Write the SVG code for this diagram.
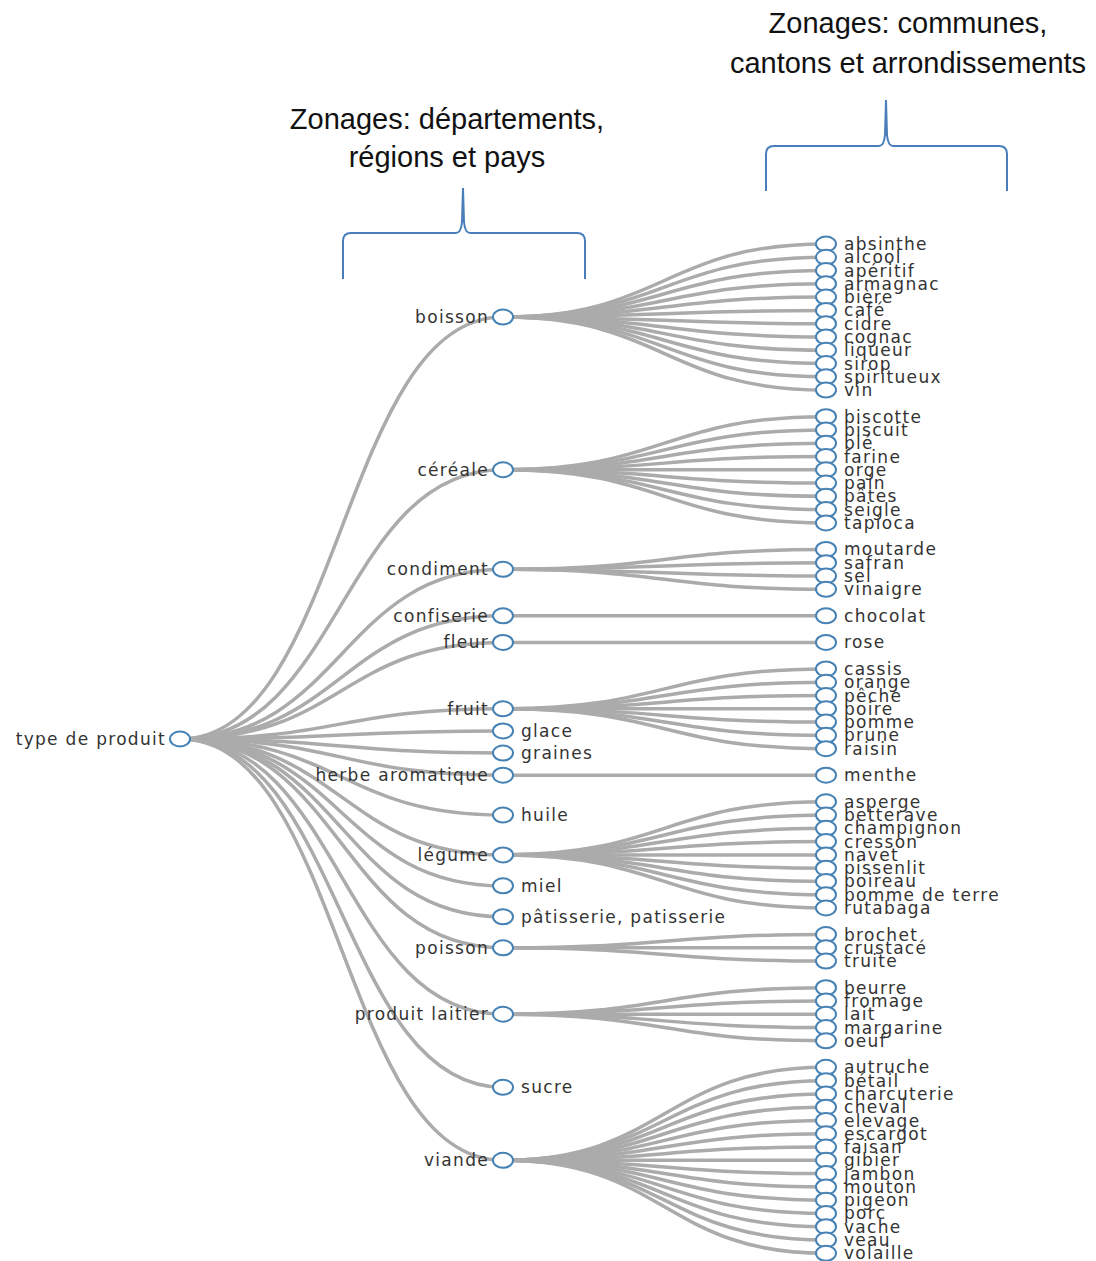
<svg xmlns="http://www.w3.org/2000/svg" width="1096" height="1261" viewBox="0 0 1096 1261">
<style>
.link{fill:none;stroke:#ababab;stroke-width:3.5}
.node ellipse{fill:#fff;stroke:#4682b4;stroke-width:2}
.lbl{font-family:"DejaVu Sans",sans-serif;font-size:17px;letter-spacing:1.3px;fill:#333}
.end{text-anchor:end}
.title{font-family:"Liberation Sans",sans-serif;font-size:29px;fill:#111;text-anchor:middle}
.brace{fill:none;stroke:#4a7ebb;stroke-width:2}
</style>
<g id="annotations">
<text class="title" x="908" y="33">Zonages: communes,</text>
<text class="title" x="908" y="73">cantons et arrondissements</text>
<text class="title" x="447" y="129">Zonages: départements,</text>
<text class="title" x="447" y="167">régions et pays</text>
<path class="brace" d="M343,279 L343,241 Q343,233 351,233 L456,233 Q461,233 462,222 L463,188 L464,222 Q465,233 470,233 L577,233 Q585,233 585,241 L585,279"/>
<path class="brace" d="M766,191 L766,154 Q766,146 774,146 L879,146 Q884,146 885,135 L886,100 L887,135 Q888,146 893,146 L999,146 Q1007,146 1007,154 L1007,191"/>
</g>
<g id="links">
<path class="link" d="M180,739 C341.5,739 341.5,317.04 503,317.04"/>
<path class="link" d="M180,739 C341.5,739 341.5,469.76 503,469.76"/>
<path class="link" d="M180,739 C341.5,739 341.5,569.36 503,569.36"/>
<path class="link" d="M180,739 C341.5,739 341.5,615.84 503,615.84"/>
<path class="link" d="M180,739 C341.5,739 341.5,642.4 503,642.4"/>
<path class="link" d="M180,739 C341.5,739 341.5,708.8 503,708.8"/>
<path class="link" d="M180,739 C341.5,739 341.5,730.93 503,730.93"/>
<path class="link" d="M180,739 C341.5,739 341.5,753.07 503,753.07"/>
<path class="link" d="M180,739 C341.5,739 341.5,775.2 503,775.2"/>
<path class="link" d="M180,739 C341.5,739 341.5,815.04 503,815.04"/>
<path class="link" d="M180,739 C341.5,739 341.5,854.88 503,854.88"/>
<path class="link" d="M180,739 C341.5,739 341.5,885.87 503,885.87"/>
<path class="link" d="M180,739 C341.5,739 341.5,916.85 503,916.85"/>
<path class="link" d="M180,739 C341.5,739 341.5,947.84 503,947.84"/>
<path class="link" d="M180,739 C341.5,739 341.5,1014.24 503,1014.24"/>
<path class="link" d="M180,739 C341.5,739 341.5,1087.28 503,1087.28"/>
<path class="link" d="M180,739 C341.5,739 341.5,1160.32 503,1160.32"/>
<path class="link" d="M503,317.04 C664.5,317.04 664.5,244 826,244"/>
<path class="link" d="M503,317.04 C664.5,317.04 664.5,257.28 826,257.28"/>
<path class="link" d="M503,317.04 C664.5,317.04 664.5,270.56 826,270.56"/>
<path class="link" d="M503,317.04 C664.5,317.04 664.5,283.84 826,283.84"/>
<path class="link" d="M503,317.04 C664.5,317.04 664.5,297.12 826,297.12"/>
<path class="link" d="M503,317.04 C664.5,317.04 664.5,310.4 826,310.4"/>
<path class="link" d="M503,317.04 C664.5,317.04 664.5,323.68 826,323.68"/>
<path class="link" d="M503,317.04 C664.5,317.04 664.5,336.96 826,336.96"/>
<path class="link" d="M503,317.04 C664.5,317.04 664.5,350.24 826,350.24"/>
<path class="link" d="M503,317.04 C664.5,317.04 664.5,363.52 826,363.52"/>
<path class="link" d="M503,317.04 C664.5,317.04 664.5,376.8 826,376.8"/>
<path class="link" d="M503,317.04 C664.5,317.04 664.5,390.08 826,390.08"/>
<path class="link" d="M503,469.76 C664.5,469.76 664.5,416.64 826,416.64"/>
<path class="link" d="M503,469.76 C664.5,469.76 664.5,429.92 826,429.92"/>
<path class="link" d="M503,469.76 C664.5,469.76 664.5,443.2 826,443.2"/>
<path class="link" d="M503,469.76 C664.5,469.76 664.5,456.48 826,456.48"/>
<path class="link" d="M503,469.76 C664.5,469.76 664.5,469.76 826,469.76"/>
<path class="link" d="M503,469.76 C664.5,469.76 664.5,483.04 826,483.04"/>
<path class="link" d="M503,469.76 C664.5,469.76 664.5,496.32 826,496.32"/>
<path class="link" d="M503,469.76 C664.5,469.76 664.5,509.6 826,509.6"/>
<path class="link" d="M503,469.76 C664.5,469.76 664.5,522.88 826,522.88"/>
<path class="link" d="M503,569.36 C664.5,569.36 664.5,549.44 826,549.44"/>
<path class="link" d="M503,569.36 C664.5,569.36 664.5,562.72 826,562.72"/>
<path class="link" d="M503,569.36 C664.5,569.36 664.5,576 826,576"/>
<path class="link" d="M503,569.36 C664.5,569.36 664.5,589.28 826,589.28"/>
<path class="link" d="M503,615.84 L826,615.84"/>
<path class="link" d="M503,642.4 L826,642.4"/>
<path class="link" d="M503,708.8 C664.5,708.8 664.5,668.96 826,668.96"/>
<path class="link" d="M503,708.8 C664.5,708.8 664.5,682.24 826,682.24"/>
<path class="link" d="M503,708.8 C664.5,708.8 664.5,695.52 826,695.52"/>
<path class="link" d="M503,708.8 C664.5,708.8 664.5,708.8 826,708.8"/>
<path class="link" d="M503,708.8 C664.5,708.8 664.5,722.08 826,722.08"/>
<path class="link" d="M503,708.8 C664.5,708.8 664.5,735.36 826,735.36"/>
<path class="link" d="M503,708.8 C664.5,708.8 664.5,748.64 826,748.64"/>
<path class="link" d="M503,775.2 L826,775.2"/>
<path class="link" d="M503,854.88 C664.5,854.88 664.5,801.76 826,801.76"/>
<path class="link" d="M503,854.88 C664.5,854.88 664.5,815.04 826,815.04"/>
<path class="link" d="M503,854.88 C664.5,854.88 664.5,828.32 826,828.32"/>
<path class="link" d="M503,854.88 C664.5,854.88 664.5,841.6 826,841.6"/>
<path class="link" d="M503,854.88 C664.5,854.88 664.5,854.88 826,854.88"/>
<path class="link" d="M503,854.88 C664.5,854.88 664.5,868.16 826,868.16"/>
<path class="link" d="M503,854.88 C664.5,854.88 664.5,881.44 826,881.44"/>
<path class="link" d="M503,854.88 C664.5,854.88 664.5,894.72 826,894.72"/>
<path class="link" d="M503,854.88 C664.5,854.88 664.5,908 826,908"/>
<path class="link" d="M503,947.84 C664.5,947.84 664.5,934.56 826,934.56"/>
<path class="link" d="M503,947.84 C664.5,947.84 664.5,947.84 826,947.84"/>
<path class="link" d="M503,947.84 C664.5,947.84 664.5,961.12 826,961.12"/>
<path class="link" d="M503,1014.24 C664.5,1014.24 664.5,987.68 826,987.68"/>
<path class="link" d="M503,1014.24 C664.5,1014.24 664.5,1000.96 826,1000.96"/>
<path class="link" d="M503,1014.24 C664.5,1014.24 664.5,1014.24 826,1014.24"/>
<path class="link" d="M503,1014.24 C664.5,1014.24 664.5,1027.52 826,1027.52"/>
<path class="link" d="M503,1014.24 C664.5,1014.24 664.5,1040.8 826,1040.8"/>
<path class="link" d="M503,1160.32 C664.5,1160.32 664.5,1067.36 826,1067.36"/>
<path class="link" d="M503,1160.32 C664.5,1160.32 664.5,1080.64 826,1080.64"/>
<path class="link" d="M503,1160.32 C664.5,1160.32 664.5,1093.92 826,1093.92"/>
<path class="link" d="M503,1160.32 C664.5,1160.32 664.5,1107.2 826,1107.2"/>
<path class="link" d="M503,1160.32 C664.5,1160.32 664.5,1120.48 826,1120.48"/>
<path class="link" d="M503,1160.32 C664.5,1160.32 664.5,1133.76 826,1133.76"/>
<path class="link" d="M503,1160.32 C664.5,1160.32 664.5,1147.04 826,1147.04"/>
<path class="link" d="M503,1160.32 C664.5,1160.32 664.5,1160.32 826,1160.32"/>
<path class="link" d="M503,1160.32 C664.5,1160.32 664.5,1173.6 826,1173.6"/>
<path class="link" d="M503,1160.32 C664.5,1160.32 664.5,1186.88 826,1186.88"/>
<path class="link" d="M503,1160.32 C664.5,1160.32 664.5,1200.16 826,1200.16"/>
<path class="link" d="M503,1160.32 C664.5,1160.32 664.5,1213.44 826,1213.44"/>
<path class="link" d="M503,1160.32 C664.5,1160.32 664.5,1226.72 826,1226.72"/>
<path class="link" d="M503,1160.32 C664.5,1160.32 664.5,1240 826,1240"/>
<path class="link" d="M503,1160.32 C664.5,1160.32 664.5,1253.28 826,1253.28"/>
</g>
<g id="nodes">
<g class="node" id="n-root"><ellipse cx="180" cy="739" rx="10" ry="7.5"/><text class="lbl end" x="166" y="745">type de produit</text></g>
<g class="node" id="n-boisson"><ellipse cx="503" cy="317.04" rx="10" ry="7.5"/><text class="lbl end" x="489" y="323">boisson</text></g>
<g class="node" id="n-cereale"><ellipse cx="503" cy="469.76" rx="10" ry="7.5"/><text class="lbl end" x="489" y="475.7">céréale</text></g>
<g class="node" id="n-condiment"><ellipse cx="503" cy="569.36" rx="10" ry="7.5"/><text class="lbl end" x="489" y="575.3">condiment</text></g>
<g class="node" id="n-confiserie"><ellipse cx="503" cy="615.84" rx="10" ry="7.5"/><text class="lbl end" x="489" y="621.8">confiserie</text></g>
<g class="node" id="n-fleur"><ellipse cx="503" cy="642.4" rx="10" ry="7.5"/><text class="lbl end" x="489" y="648.4">fleur</text></g>
<g class="node" id="n-fruit"><ellipse cx="503" cy="708.8" rx="10" ry="7.5"/><text class="lbl end" x="489" y="714.8">fruit</text></g>
<g class="node" id="n-glace"><ellipse cx="503" cy="730.93" rx="10" ry="7.5"/><text class="lbl" x="521" y="736.9">glace</text></g>
<g class="node" id="n-graines"><ellipse cx="503" cy="753.07" rx="10" ry="7.5"/><text class="lbl" x="521" y="759">graines</text></g>
<g class="node" id="n-herbe"><ellipse cx="503" cy="775.2" rx="10" ry="7.5"/><text class="lbl end" x="489" y="781.2">herbe aromatique</text></g>
<g class="node" id="n-huile"><ellipse cx="503" cy="815.04" rx="10" ry="7.5"/><text class="lbl" x="521" y="821">huile</text></g>
<g class="node" id="n-legume"><ellipse cx="503" cy="854.88" rx="10" ry="7.5"/><text class="lbl end" x="489" y="860.9">légume</text></g>
<g class="node" id="n-miel"><ellipse cx="503" cy="885.87" rx="10" ry="7.5"/><text class="lbl" x="521" y="891.9">miel</text></g>
<g class="node" id="n-patisserie"><ellipse cx="503" cy="916.85" rx="10" ry="7.5"/><text class="lbl" x="521" y="922.8">pâtisserie, patisserie</text></g>
<g class="node" id="n-poisson"><ellipse cx="503" cy="947.84" rx="10" ry="7.5"/><text class="lbl end" x="489" y="953.8">poisson</text></g>
<g class="node" id="n-laitier"><ellipse cx="503" cy="1014.24" rx="10" ry="7.5"/><text class="lbl end" x="489" y="1020.2">produit laitier</text></g>
<g class="node" id="n-sucre"><ellipse cx="503" cy="1087.28" rx="10" ry="7.5"/><text class="lbl" x="521" y="1093.3">sucre</text></g>
<g class="node" id="n-viande"><ellipse cx="503" cy="1160.32" rx="10" ry="7.5"/><text class="lbl end" x="489" y="1166.3">viande</text></g>

<g class="node" id="n-absinthe"><ellipse cx="826" cy="244" rx="10" ry="7.5"/><text class="lbl" x="844" y="250">absinthe</text></g>
<g class="node" id="n-alcool"><ellipse cx="826" cy="257.28" rx="10" ry="7.5"/><text class="lbl" x="844" y="263.3">alcool</text></g>
<g class="node" id="n-aperitif"><ellipse cx="826" cy="270.56" rx="10" ry="7.5"/><text class="lbl" x="844" y="276.6">apéritif</text></g>
<g class="node" id="n-armagnac"><ellipse cx="826" cy="283.84" rx="10" ry="7.5"/><text class="lbl" x="844" y="289.8">armagnac</text></g>
<g class="node" id="n-biere"><ellipse cx="826" cy="297.12" rx="10" ry="7.5"/><text class="lbl" x="844" y="303.1">bière</text></g>
<g class="node" id="n-cafe"><ellipse cx="826" cy="310.4" rx="10" ry="7.5"/><text class="lbl" x="844" y="316.4">café</text></g>
<g class="node" id="n-cidre"><ellipse cx="826" cy="323.68" rx="10" ry="7.5"/><text class="lbl" x="844" y="329.7">cidre</text></g>
<g class="node" id="n-cognac"><ellipse cx="826" cy="336.96" rx="10" ry="7.5"/><text class="lbl" x="844" y="343">cognac</text></g>
<g class="node" id="n-liqueur"><ellipse cx="826" cy="350.24" rx="10" ry="7.5"/><text class="lbl" x="844" y="356.2">liqueur</text></g>
<g class="node" id="n-sirop"><ellipse cx="826" cy="363.52" rx="10" ry="7.5"/><text class="lbl" x="844" y="369.5">sirop</text></g>
<g class="node" id="n-spiritueux"><ellipse cx="826" cy="376.8" rx="10" ry="7.5"/><text class="lbl" x="844" y="382.8">spiritueux</text></g>
<g class="node" id="n-vin"><ellipse cx="826" cy="390.08" rx="10" ry="7.5"/><text class="lbl" x="844" y="396.1">vin</text></g>

<g class="node" id="n-biscotte"><ellipse cx="826" cy="416.64" rx="10" ry="7.5"/><text class="lbl" x="844" y="422.6">biscotte</text></g>
<g class="node" id="n-biscuit"><ellipse cx="826" cy="429.92" rx="10" ry="7.5"/><text class="lbl" x="844" y="435.9">biscuit</text></g>
<g class="node" id="n-ble"><ellipse cx="826" cy="443.2" rx="10" ry="7.5"/><text class="lbl" x="844" y="449.2">blé</text></g>
<g class="node" id="n-farine"><ellipse cx="826" cy="456.48" rx="10" ry="7.5"/><text class="lbl" x="844" y="462.5">farine</text></g>
<g class="node" id="n-orge"><ellipse cx="826" cy="469.76" rx="10" ry="7.5"/><text class="lbl" x="844" y="475.8">orge</text></g>
<g class="node" id="n-pain"><ellipse cx="826" cy="483.04" rx="10" ry="7.5"/><text class="lbl" x="844" y="489">pain</text></g>
<g class="node" id="n-pates"><ellipse cx="826" cy="496.32" rx="10" ry="7.5"/><text class="lbl" x="844" y="502.3">pâtes</text></g>
<g class="node" id="n-seigle"><ellipse cx="826" cy="509.6" rx="10" ry="7.5"/><text class="lbl" x="844" y="515.6">seigle</text></g>
<g class="node" id="n-tapioca"><ellipse cx="826" cy="522.88" rx="10" ry="7.5"/><text class="lbl" x="844" y="528.9">tapioca</text></g>

<g class="node" id="n-moutarde"><ellipse cx="826" cy="549.44" rx="10" ry="7.5"/><text class="lbl" x="844" y="555.4">moutarde</text></g>
<g class="node" id="n-safran"><ellipse cx="826" cy="562.72" rx="10" ry="7.5"/><text class="lbl" x="844" y="568.7">safran</text></g>
<g class="node" id="n-sel"><ellipse cx="826" cy="576" rx="10" ry="7.5"/><text class="lbl" x="844" y="582">sel</text></g>
<g class="node" id="n-vinaigre"><ellipse cx="826" cy="589.28" rx="10" ry="7.5"/><text class="lbl" x="844" y="595.3">vinaigre</text></g>

<g class="node" id="n-chocolat"><ellipse cx="826" cy="615.84" rx="10" ry="7.5"/><text class="lbl" x="844" y="621.8">chocolat</text></g>
<g class="node" id="n-rose"><ellipse cx="826" cy="642.4" rx="10" ry="7.5"/><text class="lbl" x="844" y="648.4">rose</text></g>

<g class="node" id="n-cassis"><ellipse cx="826" cy="668.96" rx="10" ry="7.5"/><text class="lbl" x="844" y="675">cassis</text></g>
<g class="node" id="n-orange"><ellipse cx="826" cy="682.24" rx="10" ry="7.5"/><text class="lbl" x="844" y="688.2">orange</text></g>
<g class="node" id="n-peche"><ellipse cx="826" cy="695.52" rx="10" ry="7.5"/><text class="lbl" x="844" y="701.5">pêche</text></g>
<g class="node" id="n-poire"><ellipse cx="826" cy="708.8" rx="10" ry="7.5"/><text class="lbl" x="844" y="714.8">poire</text></g>
<g class="node" id="n-pomme"><ellipse cx="826" cy="722.08" rx="10" ry="7.5"/><text class="lbl" x="844" y="728.1">pomme</text></g>
<g class="node" id="n-prune"><ellipse cx="826" cy="735.36" rx="10" ry="7.5"/><text class="lbl" x="844" y="741.4">prune</text></g>
<g class="node" id="n-raisin"><ellipse cx="826" cy="748.64" rx="10" ry="7.5"/><text class="lbl" x="844" y="754.6">raisin</text></g>

<g class="node" id="n-menthe"><ellipse cx="826" cy="775.2" rx="10" ry="7.5"/><text class="lbl" x="844" y="781.2">menthe</text></g>

<g class="node" id="n-asperge"><ellipse cx="826" cy="801.76" rx="10" ry="7.5"/><text class="lbl" x="844" y="807.8">asperge</text></g>
<g class="node" id="n-betterave"><ellipse cx="826" cy="815.04" rx="10" ry="7.5"/><text class="lbl" x="844" y="821">betterave</text></g>
<g class="node" id="n-champignon"><ellipse cx="826" cy="828.32" rx="10" ry="7.5"/><text class="lbl" x="844" y="834.3">champignon</text></g>
<g class="node" id="n-cresson"><ellipse cx="826" cy="841.6" rx="10" ry="7.5"/><text class="lbl" x="844" y="847.6">cresson</text></g>
<g class="node" id="n-navet"><ellipse cx="826" cy="854.88" rx="10" ry="7.5"/><text class="lbl" x="844" y="860.9">navet</text></g>
<g class="node" id="n-pissenlit"><ellipse cx="826" cy="868.16" rx="10" ry="7.5"/><text class="lbl" x="844" y="874.2">pissenlit</text></g>
<g class="node" id="n-poireau"><ellipse cx="826" cy="881.44" rx="10" ry="7.5"/><text class="lbl" x="844" y="887.4">poireau</text></g>
<g class="node" id="n-pdt"><ellipse cx="826" cy="894.72" rx="10" ry="7.5"/><text class="lbl" x="844" y="900.7">pomme de terre</text></g>
<g class="node" id="n-rutabaga"><ellipse cx="826" cy="908" rx="10" ry="7.5"/><text class="lbl" x="844" y="914">rutabaga</text></g>

<g class="node" id="n-brochet"><ellipse cx="826" cy="934.56" rx="10" ry="7.5"/><text class="lbl" x="844" y="940.6">brochet</text></g>
<g class="node" id="n-crustace"><ellipse cx="826" cy="947.84" rx="10" ry="7.5"/><text class="lbl" x="844" y="953.8">crustacé</text></g>
<g class="node" id="n-truite"><ellipse cx="826" cy="961.12" rx="10" ry="7.5"/><text class="lbl" x="844" y="967.1">truite</text></g>

<g class="node" id="n-beurre"><ellipse cx="826" cy="987.68" rx="10" ry="7.5"/><text class="lbl" x="844" y="993.7">beurre</text></g>
<g class="node" id="n-fromage"><ellipse cx="826" cy="1000.96" rx="10" ry="7.5"/><text class="lbl" x="844" y="1007">fromage</text></g>
<g class="node" id="n-lait"><ellipse cx="826" cy="1014.24" rx="10" ry="7.5"/><text class="lbl" x="844" y="1020.2">lait</text></g>
<g class="node" id="n-margarine"><ellipse cx="826" cy="1027.52" rx="10" ry="7.5"/><text class="lbl" x="844" y="1033.5">margarine</text></g>
<g class="node" id="n-oeuf"><ellipse cx="826" cy="1040.8" rx="10" ry="7.5"/><text class="lbl" x="844" y="1046.8">oeuf</text></g>

<g class="node" id="n-autruche"><ellipse cx="826" cy="1067.36" rx="10" ry="7.5"/><text class="lbl" x="844" y="1073.4">autruche</text></g>
<g class="node" id="n-betail"><ellipse cx="826" cy="1080.64" rx="10" ry="7.5"/><text class="lbl" x="844" y="1086.6">bétail</text></g>
<g class="node" id="n-charcuterie"><ellipse cx="826" cy="1093.92" rx="10" ry="7.5"/><text class="lbl" x="844" y="1099.9">charcuterie</text></g>
<g class="node" id="n-cheval"><ellipse cx="826" cy="1107.2" rx="10" ry="7.5"/><text class="lbl" x="844" y="1113.2">cheval</text></g>
<g class="node" id="n-elevage"><ellipse cx="826" cy="1120.48" rx="10" ry="7.5"/><text class="lbl" x="844" y="1126.5">elevage</text></g>
<g class="node" id="n-escargot"><ellipse cx="826" cy="1133.76" rx="10" ry="7.5"/><text class="lbl" x="844" y="1139.8">escargot</text></g>
<g class="node" id="n-faisan"><ellipse cx="826" cy="1147.04" rx="10" ry="7.5"/><text class="lbl" x="844" y="1153">faisan</text></g>
<g class="node" id="n-gibier"><ellipse cx="826" cy="1160.32" rx="10" ry="7.5"/><text class="lbl" x="844" y="1166.3">gibier</text></g>
<g class="node" id="n-jambon"><ellipse cx="826" cy="1173.6" rx="10" ry="7.5"/><text class="lbl" x="844" y="1179.6">jambon</text></g>
<g class="node" id="n-mouton"><ellipse cx="826" cy="1186.88" rx="10" ry="7.5"/><text class="lbl" x="844" y="1192.9">mouton</text></g>
<g class="node" id="n-pigeon"><ellipse cx="826" cy="1200.16" rx="10" ry="7.5"/><text class="lbl" x="844" y="1206.2">pigeon</text></g>
<g class="node" id="n-porc"><ellipse cx="826" cy="1213.44" rx="10" ry="7.5"/><text class="lbl" x="844" y="1219.4">porc</text></g>
<g class="node" id="n-vache"><ellipse cx="826" cy="1226.72" rx="10" ry="7.5"/><text class="lbl" x="844" y="1232.7">vache</text></g>
<g class="node" id="n-veau"><ellipse cx="826" cy="1240" rx="10" ry="7.5"/><text class="lbl" x="844" y="1246">veau</text></g>
<g class="node" id="n-volaille"><ellipse cx="826" cy="1253.28" rx="10" ry="7.5"/><text class="lbl" x="844" y="1259.3">volaille</text></g>
</g>
</svg>
